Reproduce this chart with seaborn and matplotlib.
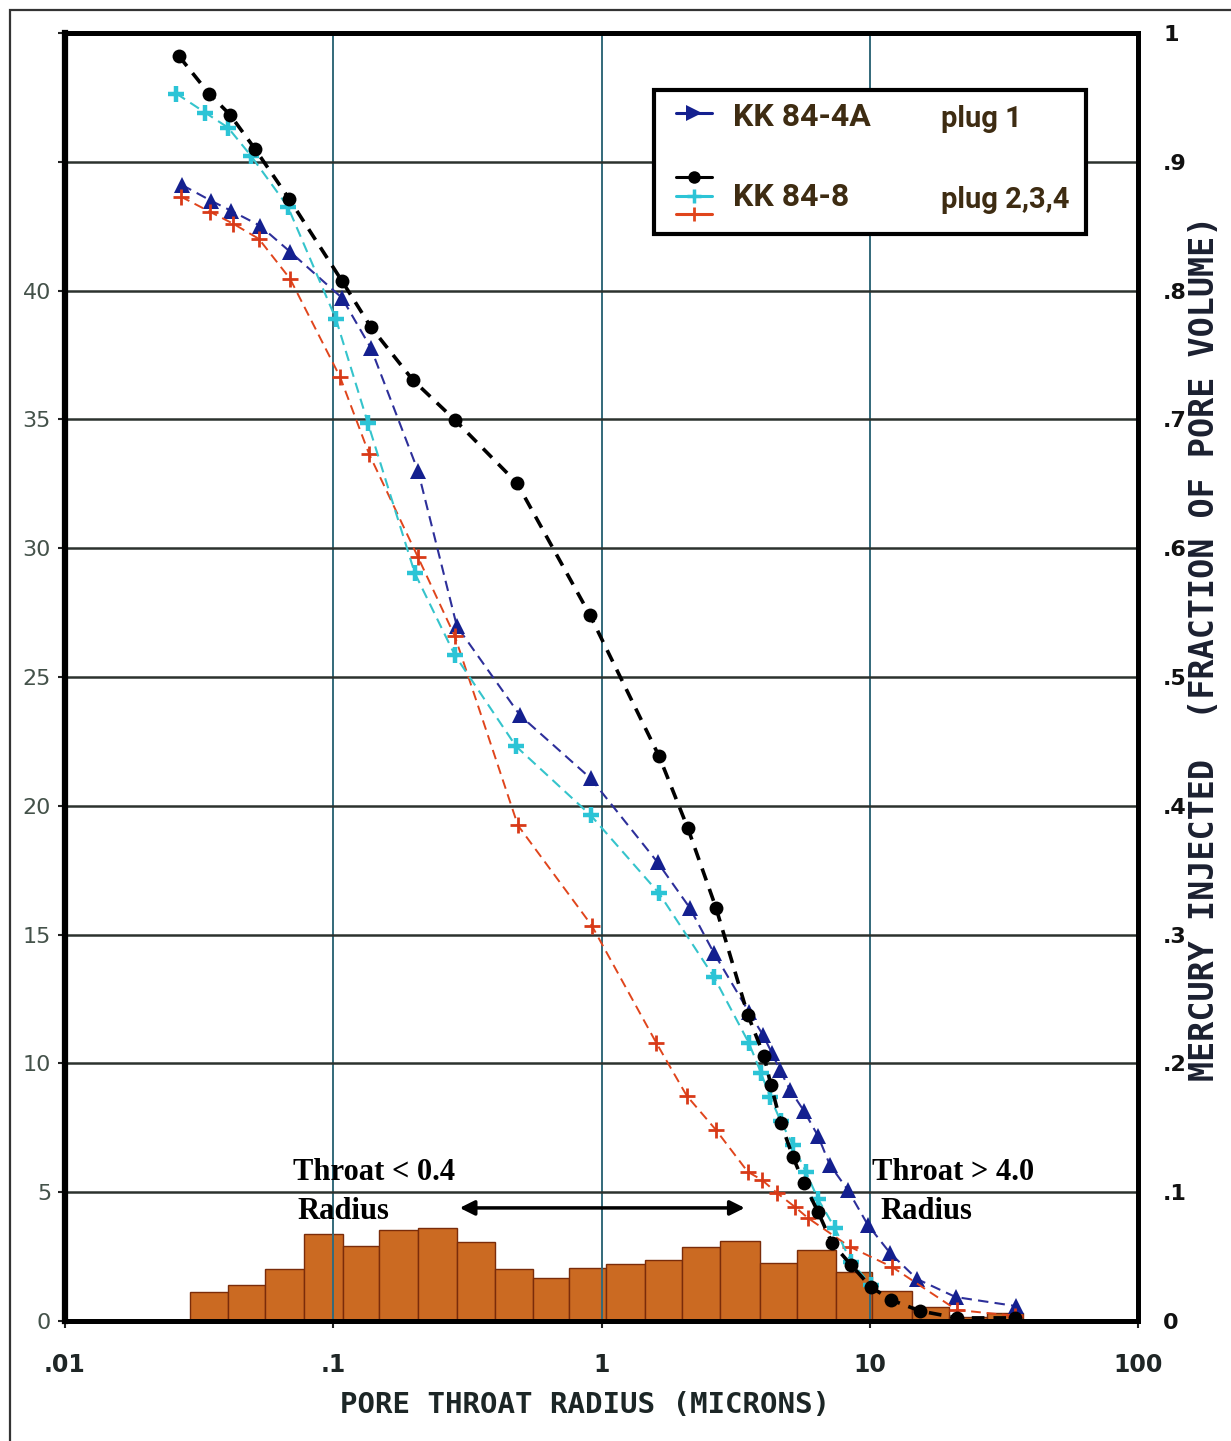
import numpy as np
import pandas as pd
import matplotlib
matplotlib.use("Agg")
import matplotlib.pyplot as plt
import seaborn as sns
from matplotlib.patches import Rectangle
from matplotlib.lines import Line2D

# ---------------- data ----------------
# KK 84-4A plug 1 (blue triangles)
blue_r = [0.0273, 0.035, 0.0416, 0.0533, 0.069, 0.1077, 0.138, 0.207, 0.289, 0.497,
          0.912, 1.62, 2.13, 2.62, 3.54, 4.0, 4.32, 4.62, 5.04, 5.68, 6.41, 7.1,
          8.28, 9.84, 11.9, 15.0, 20.9, 35.0]
blue_hg = [44.1, 43.49, 43.1, 42.52, 41.51, 39.72, 37.78, 33.0, 26.97, 23.51,
           21.06, 17.8, 16.05, 14.3, 12.0, 11.1, 10.4, 9.75, 8.98, 8.16, 7.19, 6.06,
           5.09, 3.73, 2.64, 1.63, 0.93, 0.58]

# KK 84-8 plug 2 (black circles)
black_r = [0.0266, 0.0344, 0.0412, 0.051, 0.0684, 0.1077, 0.138, 0.198, 0.284, 0.484,
           0.906, 1.64, 2.10, 2.67, 3.51, 4.03, 4.28, 4.66, 5.17, 5.68, 6.41, 7.23,
           8.51, 10.1, 12.0, 15.4, 21.1, 34.8]
black_hg = [49.1, 47.65, 46.83, 45.51, 43.57, 40.38, 38.59, 36.53, 34.98, 32.53,
            27.4, 21.92, 19.12, 16.05, 11.89, 10.3, 9.17, 7.7, 6.37, 5.36, 4.24, 3.03,
            2.18, 1.32, 0.82, 0.39, 0.12, 0.12]

# KK 84-8 plug 3 (cyan plus)
cyan_r = [0.026, 0.0333, 0.0405, 0.0493, 0.0677, 0.1023, 0.1346, 0.2014, 0.284, 0.48,
          0.912, 1.64, 2.62, 3.54, 3.93, 4.25, 4.66, 5.17, 5.78, 6.41, 7.41, 8.51, 10.1]
cyan_hg = [47.65, 46.91, 46.33, 45.24, 43.26, 38.9, 34.86, 29.03, 25.85, 22.31,
           19.63, 16.6, 13.37, 10.8, 9.64, 8.7, 7.75, 6.84, 5.79, 4.74, 3.61, 2.3, 1.4]

# KK 84-8 plug 4 (red plus)
red_r = [0.027, 0.0347, 0.0423, 0.0528, 0.069, 0.106, 0.136, 0.207, 0.284, 0.488,
         0.92, 1.60, 2.08, 2.67, 3.51, 3.96, 4.51, 5.26, 5.88, 8.43, 12.1, 21.1, 34.8]
red_hg = [43.65, 43.06, 42.6, 42.01, 40.46, 36.65, 33.66, 29.65, 26.58, 19.24,
          15.35, 10.8, 8.74, 7.42, 5.79, 5.48, 4.97, 4.43, 4.0, 2.88, 2.1, 0.43, 0.2]

# pore throat size distribution histogram (bin edges in microns, heights in %)
hist_edges = [0.0292, 0.0405, 0.0556, 0.0778, 0.1087, 0.148, 0.207, 0.289, 0.401,
              0.555, 0.756, 1.04, 1.45, 1.99, 2.76, 3.89, 5.35, 7.48, 10.2, 14.4,
              19.7, 27.3, 37.2]
hist_heights = [1.13, 1.38, 2.0, 3.36, 2.9, 3.52, 3.6, 3.05, 2.0, 1.65, 2.06,
                2.23, 2.35, 2.88, 3.1, 2.25, 2.76, 1.9, 1.17, 0.56, 0.15, 0.3]

x_ticks = [0.01, 0.1, 1, 10, 100]
x_ticklabels = [".01", ".1", "1", "10", "100"]
left_ticks = [0, 5, 10, 15, 20, 25, 30, 35, 40, 45, 50]
left_ticklabels = ["0", "5", "10", "15", "20", "25", "30", "35", "40", "", ""]
right_ticks = [0, .1, .2, .3, .4, .5, .6, .7, .8, .9, 1]
right_ticklabels = ["0", ".1", ".2", ".3", ".4", ".5", ".6", ".7", ".8", ".9", "1"]

legend_names = ["KK 84-4A", "KK 84-8"]
legend_plugs = ["plug 1", "plug 2,3,4"]

# ---------------- figure ----------------
sns.set_theme(style="white")
plt.rcParams["font.family"] = ["DejaVu Sans"]

W, H = 1231, 1441
fig = plt.figure(figsize=(W / 100, H / 100), dpi=100)
fig.patch.set_facecolor("white")
ax = fig.add_axes([65 / W, 120 / H, 1073 / W, 1288 / H])
ax.set_xscale("log")
ax.set_xlim(0.01, 100)
ax.set_ylim(0, 50)

# histogram bars
edges = np.array(hist_edges)
ax.bar(edges[:-1], hist_heights, width=np.diff(edges), align="edge",
       color="#cb6a22", edgecolor="#7a2c0a", linewidth=1.0, zorder=0.3)

series = [
    (blue_r, blue_hg, "#2d2f9a", "#14208f", "^", 12, 0, 1.5, (0, (5, 3))),
    (red_r, red_hg, "#e0451c", "#d83a18", "+", 11, 2.0, 1.4, (0, (5, 3))),
    (cyan_r, cyan_hg, "#35c4cc", "#2cc4d6", "+", 12, 3.2, 1.5, (0, (5, 3))),
    (black_r, black_hg, "#000000", "#000000", "o", 10, 0, 2.6, (0, (3.5, 2.5))),
]
for r, hg, lc, mc, mk, ms, mew, lw, ls in series:
    df = pd.DataFrame({"r": r, "hg": hg})
    sns.lineplot(data=df, x="r", y="hg", ax=ax, estimator=None, sort=False,
                 color=lc, linewidth=lw, linestyle=ls, marker=mk, markersize=ms,
                 markerfacecolor=mc, markeredgecolor=mc, markeredgewidth=mew,
                 legend=False, zorder=3)

# grid
ax.set_axisbelow(True)
ax.yaxis.grid(True, color="#2c322e", linewidth=1.8)
ax.xaxis.grid(True, color="#33697a", linewidth=1.4)
ax.minorticks_off()

ax.set_xticks(x_ticks)
ax.set_xticklabels(x_ticklabels, fontsize=17, fontweight="bold", color="#1f2626")
ax.set_yticks(left_ticks)
ax.set_yticklabels(left_ticklabels, fontsize=16, color="#44524a")
ax.tick_params(axis="x", bottom=True, length=5, width=1.5, pad=18, color="#222")
ax.tick_params(axis="y", left=True, length=5, width=1.5, pad=5, color="#222")
ax.set_xlabel("PORE THROAT RADIUS (MICRONS)", fontsize=21, family="DejaVu Sans Mono",
              fontweight="bold", color="#1c2626")
ax.xaxis.set_label_coords((585 - 65) / 1073, -(1405 - 1321) / 1288)
ax.xaxis.label.set_va("center")
ax.set_ylabel("")
for s in ax.spines.values():
    s.set_linewidth(3.5)
    s.set_color("black")
ax.spines["left"].set_linewidth(4.5)

# right axis (fraction of pore volume)
ax2 = ax.twinx()
ax2.set_ylim(0, 1)
ax2.set_yticks(right_ticks)
ax2.set_yticklabels(right_ticklabels, fontsize=16, fontweight="bold", color="#111")
ax2.tick_params(axis="y", right=True, length=0, pad=18)
ax2.set_ylabel("MERCURY INJECTED  (FRACTION OF PORE VOLUME)", fontsize=24,
               family="DejaVu Sans Mono", fontweight="bold", color="#1b2030", rotation=90)
ax2.yaxis.set_label_coords((1205 - 65) / 1073, (1321 - 648) / 1288)
ax2.yaxis.label.set_va("center")
for s in ax2.spines.values():
    s.set_linewidth(3.5)
    s.set_color("black")

# annotations
ann_font = dict(family=["Liberation Serif", "DejaVu Serif"], fontweight="bold",
                fontsize=22, color="black", ha="center", va="center", zorder=5)
ax.text(0.142, 5.75, "Throat < 0.4", **ann_font)
ax.text(0.1087, 4.24, "Radius", **ann_font)
ax.text(20.4, 5.75, "Throat > 4.0", **ann_font)
ax.text(16.3, 4.24, "Radius", **ann_font)
ax.annotate("", xy=(0.296, 4.39), xytext=(3.42, 4.39),
            arrowprops=dict(arrowstyle="<|-|>", lw=2.5, color="black",
                            mutation_scale=22, shrinkA=0, shrinkB=0), zorder=5)

# legend box
ax.add_patch(Rectangle((0.549, 0.844), 0.4025, 0.1117, transform=ax.transAxes,
                       facecolor="white", edgecolor="black", linewidth=3, zorder=6))
hx = [0.5694, 0.603]
leg_rows = [(0.938, "#14208f", ">", 12, 0), (0.888, "black", "o", 9, 0),
            (0.8735, "#2cc4d6", "+", 10, 2.5), (0.8595, "#e0451c", "+", 10, 2)]
for yy, c, mk, ms, mew in leg_rows:
    ax.add_line(Line2D(hx, [yy, yy], transform=ax.transAxes, color=c, lw=2.2, zorder=7))
    ax.add_line(Line2D([np.mean(hx)], [yy], transform=ax.transAxes, color=c, marker=mk,
                       markersize=ms, markeredgewidth=mew, markeredgecolor=c, zorder=8))
leg_font = dict(family=["Roboto", "DejaVu Sans"], fontweight="bold",
                color="#3e2c12", va="center", ha="left", transform=ax.transAxes, zorder=8)
ax.text(0.6226, 0.9348, legend_names[0], fontsize=23, **leg_font)
ax.text(0.8164, 0.9335, legend_plugs[0], fontsize=21, **leg_font)
ax.text(0.6226, 0.8727, legend_names[1], fontsize=23, **leg_font)
ax.text(0.8164, 0.8700, legend_plugs[1], fontsize=21, **leg_font)

# outer frame
fig.patches.append(Rectangle((10 / W, -0.01), 1.05, 1 - 10 / H + 0.01,
                             transform=fig.transFigure, fill=False,
                             edgecolor="#333", linewidth=1.6))

fig.savefig("out.png", dpi=100, facecolor="white")
